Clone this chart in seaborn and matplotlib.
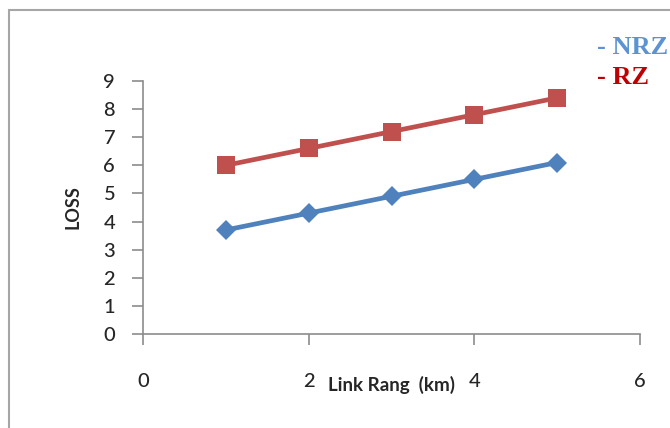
import matplotlib
matplotlib.use("Agg")
import matplotlib.pyplot as plt
from matplotlib.patches import Rectangle
import seaborn as sns
import pandas as pd

# Link range (km) and loss for each line coding scheme
link_range = [1, 2, 3, 4, 5]
loss_nrz = [3.7, 4.3, 4.9, 5.5, 6.1]
loss_rz = [6.0, 6.6, 7.2, 7.8, 8.4]
series_names = ["NRZ", "RZ"]
x_ticks = [0, 2, 4, 6]
y_ticks = [0, 1, 2, 3, 4, 5, 6, 7, 8, 9]

df = pd.DataFrame({
    "range": link_range * 2,
    "loss": loss_nrz + loss_rz,
    "scheme": [series_names[0]] * len(link_range) + [series_names[1]] * len(link_range),
})

sns.set_style("white")
plt.rcParams["font.family"] = ["Lato", "DejaVu Sans"]

line_colors = {"NRZ": "#4F81BD", "RZ": "#C0504D"}
text_colors = {"NRZ": "#5B93D3", "RZ": "#C00000"}

fig = plt.figure(figsize=(6.7, 4.28), dpi=100)
ax = fig.add_axes([143 / 670, 1 - 334 / 428, (640 - 143) / 670, (334 - 81) / 428])

# chart-area border
fig.patches.append(Rectangle((9 / 670, -0.1), 1.2, 1 - 10 / 428 + 0.1,
                             transform=fig.transFigure, fill=False,
                             edgecolor="#A6A6A6", linewidth=1.5))

sns.lineplot(data=df, x="range", y="loss", hue="scheme", style="scheme",
             markers={"NRZ": "D", "RZ": "s"}, dashes=False,
             palette=line_colors, linewidth=3.4, ax=ax, legend=False)
for line, ms in zip(ax.lines, [10, 12.5]):
    line.set_markersize(ms)
    line.set_markeredgewidth(0)

ax.set_xlim(0, 6)
ax.set_ylim(0, 9)
ax.set_xticks(x_ticks)
ax.set_yticks(y_ticks)
for side in ["top", "right"]:
    ax.spines[side].set_visible(False)
for side in ["left", "bottom"]:
    ax.spines[side].set_color("#8C8C8C")
    ax.spines[side].set_linewidth(1.2)
ax.tick_params(axis="x", direction="out", length=8, width=1.2, color="#8C8C8C",
               pad=20, labelsize=14.5, bottom=True)
ax.tick_params(axis="y", direction="out", length=8, width=1.2, color="#8C8C8C",
               pad=12, labelsize=14.5, left=True)
for lbl in ax.get_xticklabels() + ax.get_yticklabels():
    lbl.set_fontweight("medium")

ax.set_xlabel("Link Rang  (km)", fontsize=13.5, fontweight="bold", labelpad=-10)
ax.set_ylabel("LOSS", fontsize=13, fontweight="bold", labelpad=16)

# legend entries as coloured text
fig.text(597 / 670, 1 - 47 / 428, "- NRZ", color=text_colors["NRZ"], fontsize=19,
         fontweight="bold", family=["Liberation Serif"], va="center", ha="left")
fig.text(597 / 670, 1 - 78 / 428, "- RZ", color=text_colors["RZ"], fontsize=19,
         fontweight="bold", family=["Liberation Serif"], va="center", ha="left")

fig.savefig("out.png", dpi=100)
